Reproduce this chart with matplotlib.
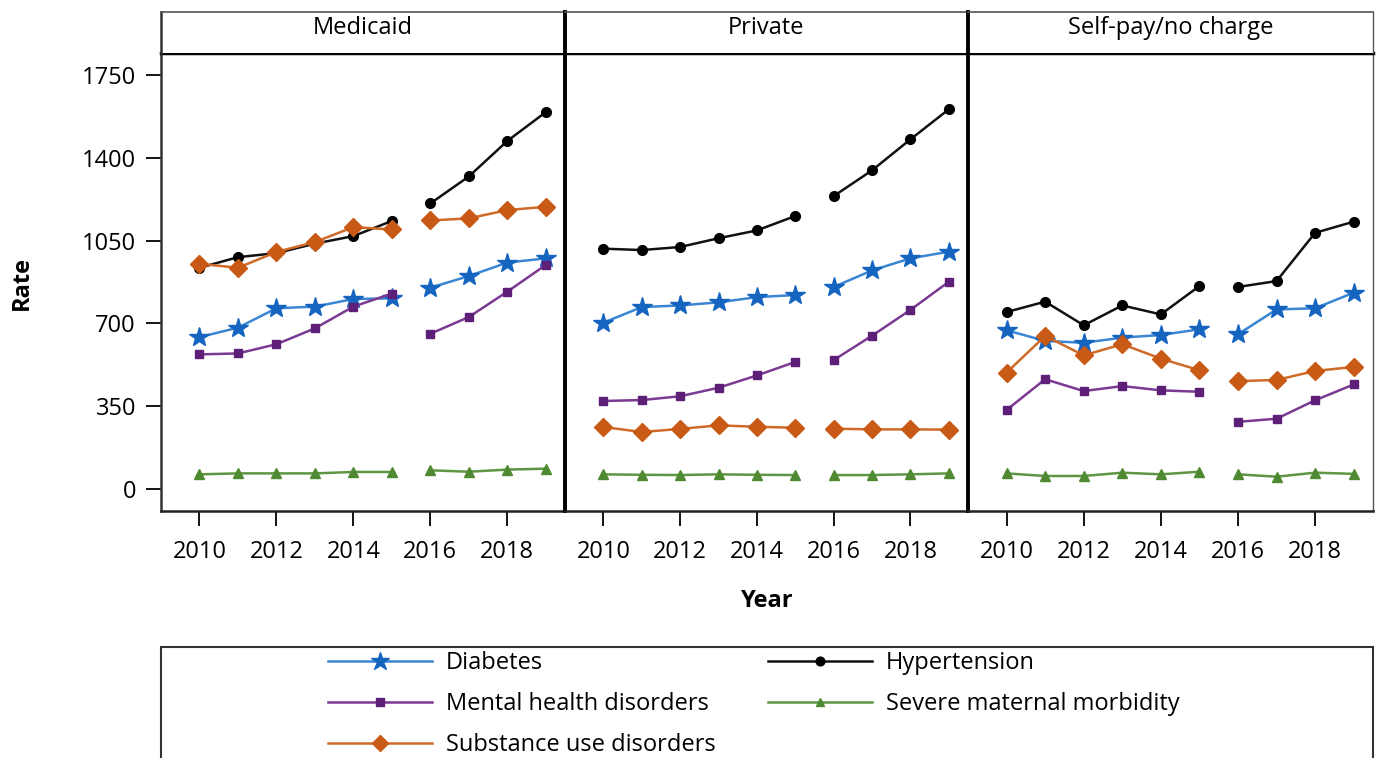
import matplotlib.pyplot as plt
from matplotlib.patches import Rectangle

plt.rcParams['font.family'] = ['Open Sans', 'DejaVu Sans']

years = [2010, 2011, 2012, 2013, 2014, 2015, 2016, 2017, 2018, 2019]
payers = ['Medicaid', 'Private', 'Self-pay/no charge']

diabetes = {
    'Medicaid': [642, 682, 764, 771, 803, 806, 851, 900, 957, 975],
    'Private': [703, 769, 776, 789, 811, 820, 854, 924, 975, 1003],
    'Self-pay/no charge': [671, 626, 618, 640, 651, 675, 654, 759, 764, 830],
}
hypertension = {
    'Medicaid': [935, 980, 997, 1037, 1069, 1133, 1207, 1321, 1471, 1593],
    'Private': [1016, 1010, 1023, 1060, 1093, 1154, 1238, 1347, 1478, 1605],
    'Self-pay/no charge': [748, 792, 692, 776, 738, 858, 854, 879, 1083, 1130],
}
mental = {
    'Medicaid': [569, 573, 612, 679, 771, 826, 656, 727, 834, 947],
    'Private': [372, 376, 392, 428, 480, 537, 545, 648, 757, 876],
    'Self-pay/no charge': [334, 464, 414, 435, 417, 411, 284, 297, 375, 442],
}
smm = {
    'Medicaid': [62, 66, 66, 66, 72, 72, 79, 73, 82, 86],
    'Private': [62, 60, 59, 62, 60, 59, 59, 59, 62, 66],
    'Self-pay/no charge': [66, 55, 55, 69, 62, 73, 62, 52, 69, 64],
}
substance = {
    'Medicaid': [952, 935, 1002, 1044, 1107, 1097, 1135, 1144, 1179, 1193],
    'Private': [262, 241, 254, 269, 263, 259, 255, 252, 252, 251],
    'Self-pay/no charge': [492, 647, 565, 612, 551, 502, 456, 461, 499, 516],
}

# label, data, line colour, marker colour, marker, marker size
series = [
    ('Diabetes', diabetes, '#3a86d4', '#1565c0', '*', 15),
    ('Hypertension', hypertension, '#111111', '#000000', 'o', 7),
    ('Mental health disorders', mental, '#7b3a92', '#5e1f78', 's', 6),
    ('Severe maternal morbidity', smm, '#5f9643', '#4f8a32', '^', 7),
    ('Substance use disorders', substance, '#cf6a28', '#c95a15', 'D', 9),
]

W, H = 1376, 758
FS = 17
fig = plt.figure(figsize=(W / 100, H / 100), dpi=100)

edges = [161, 565, 968, 1373]
top_plot, bottom_plot, top_head = 53, 511, 12

handles = {}
for i, payer in enumerate(payers):
    l = edges[i] / W
    w = (edges[i + 1] - edges[i]) / W
    ax = fig.add_axes([l, 1 - bottom_plot / H, w, (bottom_plot - top_plot) / H])
    hx = fig.add_axes([l, 1 - top_plot / H, w, (top_plot - top_head) / H])

    for label, data, lc, mc, mk, ms in series:
        vals = data[payer]
        for a, b in [(0, 6), (6, 10)]:
            h, = ax.plot(years[a:b], vals[a:b], color=lc, lw=1.8, marker=mk,
                         ms=ms, markerfacecolor=mc, markeredgecolor=mc)
        handles[label] = h

    ax.set_xlim(2009.0, 2019.5)
    ax.set_ylim(-93, 1843)
    ax.set_xticks([2010, 2012, 2014, 2016, 2018])
    ax.tick_params(axis='x', length=11, width=1.3, pad=10, labelsize=FS)
    ax.tick_params(axis='y', length=11, width=1.3, pad=7, labelsize=FS)
    ax.set_yticks([0, 350, 700, 1050, 1400, 1750])
    if i > 0:
        ax.tick_params(axis='y', left=False, labelleft=False)

    ax.spines['top'].set_linewidth(2.5)
    ax.spines['top'].set_color('black')
    ax.spines['bottom'].set_linewidth(1.8)
    ax.spines['bottom'].set_color('#222222')
    ax.spines['right'].set_visible(i == 2)
    ax.spines['right'].set_linewidth(1)
    ax.spines['right'].set_color('#555555')
    if i == 0:
        ax.spines['left'].set_linewidth(1.8)
        ax.spines['left'].set_color('#333333')
    else:
        ax.spines['left'].set_linewidth(2.8)
        ax.spines['left'].set_color('black')

    hx.set_xticks([])
    hx.set_yticks([])
    hx.spines['bottom'].set_visible(False)
    hx.spines['top'].set_linewidth(1.2)
    hx.spines['top'].set_color('#555555')
    hx.spines['right'].set_visible(i == 2)
    hx.spines['right'].set_linewidth(1)
    hx.spines['right'].set_color('#555555')
    if i == 0:
        hx.spines['left'].set_linewidth(1.8)
        hx.spines['left'].set_color('#333333')
    else:
        hx.spines['left'].set_linewidth(2.8)
        hx.spines['left'].set_color('black')
    hx.text(0.5, 0.6, payer, ha='center', va='center', fontsize=FS,
            transform=hx.transAxes)

fig.text(22 / W, 1 - 283 / H, 'Rate', rotation=90, ha='center', va='center',
         fontsize=FS, fontweight='bold')
fig.text(767 / W, 1 - 601 / H, 'Year', ha='center', va='center',
         fontsize=FS, fontweight='bold')

# legend box running off the bottom edge
fig.patches.append(Rectangle((161 / W, -0.02), (1373 - 161) / W, 0.02 + 1 - 647 / H,
                             transform=fig.transFigure, fill=False,
                             edgecolor='#333333', lw=1.5))

order = ['Diabetes', 'Mental health disorders', 'Substance use disorders',
         'Hypertension', 'Severe maternal morbidity']
fig.legend([handles[k] for k in order], order, ncol=2, frameon=False,
           loc='upper left', bbox_to_anchor=(328 / W, 1 - 651 / H),
           borderpad=0, borderaxespad=0, fontsize=FS, handlelength=4.4,
           handletextpad=0.6, columnspacing=2.2, labelspacing=0.72,
           markerscale=0.9)

fig.savefig('out.png', dpi=100)
